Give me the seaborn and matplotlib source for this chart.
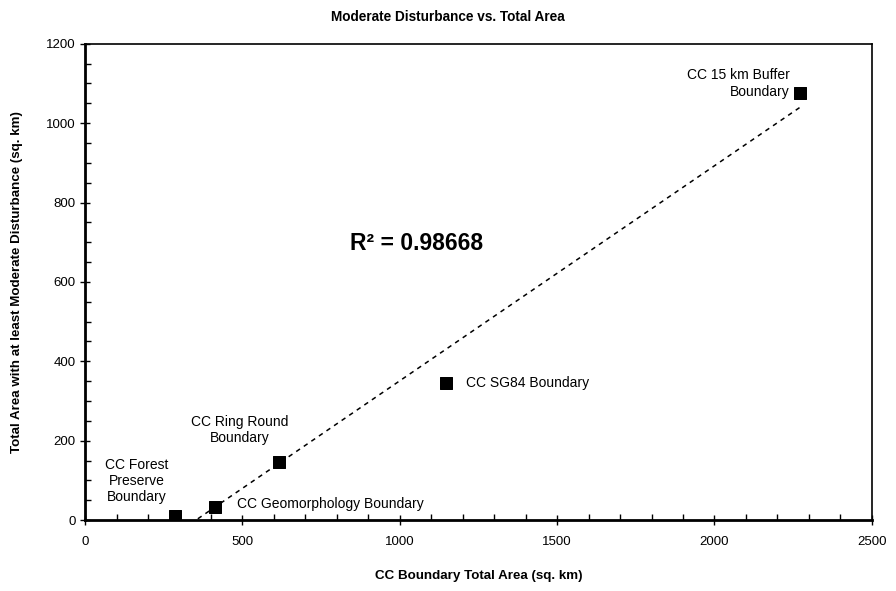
import matplotlib.pyplot as plt
import seaborn as sns
import numpy as np
from matplotlib.ticker import MultipleLocator

sns.set_style("white")
plt.rcParams['font.family'] = ['Liberation Sans', 'DejaVu Sans']
plt.rcParams['text.color'] = 'black'
plt.rcParams['axes.labelcolor'] = 'black'
plt.rcParams['xtick.color'] = 'black'
plt.rcParams['ytick.color'] = 'black'

# data
names = ["CC Forest\nPreserve\nBoundary", "CC Geomorphology Boundary", "CC Ring Round\nBoundary",
         "CC SG84 Boundary", "CC 15 km Buffer\nBoundary"]
total_area = [286, 413, 616, 1147, 2271]
disturbed_area = [10, 33, 146, 345, 1076]
r2_text = "R\u00b2 = 0.98668"

fig = plt.figure(figsize=(8.96, 5.91), dpi=100)
ax = fig.add_axes([0.095, 0.120, 0.878, 0.806])

# trend line (linear fit)
slope, icpt = np.polyfit(total_area, disturbed_area, 1)
xs = np.array([min(total_area), max(total_area)])
sns.lineplot(x=xs, y=slope * xs + icpt, ax=ax, color='black', lw=1.1,
             linestyle=(0, (3, 3)), zorder=2)

sns.scatterplot(x=total_area, y=disturbed_area, ax=ax, marker='s', s=80,
                color='black', edgecolor='black', zorder=3)

# point labels
lab_pos = [(165, 98, 'center'), (483, 40, 'left'), (492, 227, 'center'),
           (1210, 345, 'left'), (2239, 1100, 'right')]
for name, (lx, ly, ha) in zip(names, lab_pos):
    ax.text(lx, ly, name, ha=ha, va='center', fontsize=10, multialignment=ha,
            linespacing=1.2)

ax.text(842, 696, r2_text, fontsize=16.5, fontweight='bold', va='center', ha='left')

ax.set_xlim(0, 2500)
ax.set_ylim(0, 1200)
ax.xaxis.set_major_locator(MultipleLocator(500))
ax.xaxis.set_minor_locator(MultipleLocator(100))
ax.yaxis.set_major_locator(MultipleLocator(200))
ax.yaxis.set_minor_locator(MultipleLocator(50))
ax.tick_params(which='major', direction='inout', length=7, width=1, labelsize=9.5)
ax.tick_params(which='minor', direction='in', length=4, width=1)
ax.tick_params(axis='x', which='both', bottom=True)
ax.tick_params(axis='y', which='both', left=True)
ax.tick_params(axis='x', pad=8)
for s in ax.spines.values():
    s.set_color('black')
    s.set_linewidth(1.2)
ax.spines['bottom'].set_linewidth(2)
ax.spines['left'].set_linewidth(2)

ax.set_xlabel("CC Boundary Total Area (sq. km)", fontsize=9.6, fontweight='bold', va='center')
ax.set_ylabel("Total Area with at least Moderate Disturbance (sq. km)", fontsize=9.6,
              fontweight='bold', va='center')
ax.xaxis.set_label_coords(0.5, -0.118)
ax.yaxis.set_label_coords(-0.086, 0.5)
fig.text(0.5, 0.972, "Moderate Disturbance vs. Total Area", ha='center', va='center',
         fontsize=9.8, fontweight='bold')

plt.savefig("out.png", dpi=100)
